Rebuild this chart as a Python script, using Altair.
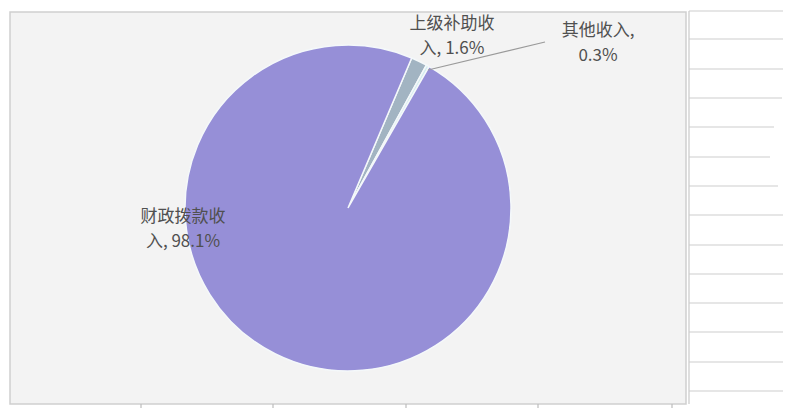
import math
import altair as alt
import pandas as pd

# ---- data ----
names = ["上级补助收入", "其他收入", "财政拨款收入"]
shares = [1.6, 0.3, 98.1]
orders = [1, 2, 3]
colors = ["#a2b4c2", "#d3ecef", "#968fd7"]
label_lines = [["上级补助收", "入, 1.6%"], ["其他收入,", "0.3%"], ["财政拨款收", "入, 98.1%"]]

# decorative lines of the stray table at the right (image y)
side_lines = [11, 39, 69, 98, 127, 157, 186, 215, 245, 274, 303, 332, 362, 391]
side_ends = [791, 791, 791, 782, 774, 770, 778, 786, 788, 791, 791, 791, 791, 791]
bottom_ticks = [141, 273, 406, 538, 672]

OX, OY = 8, 8  # page margin
FONT = "Noto Sans CJK SC"

df = pd.DataFrame({"name": names, "share": shares, "order": orders})
one = pd.DataFrame({"a": [0]})

a0 = math.radians(23.0)

layers = []

# background box
layers.append(
    alt.Chart(one).mark_rect(fill="#f3f3f3", stroke="#cfcfcf", strokeWidth=1.5).encode(
        x=alt.value(10 - OX), x2=alt.value(686 - OX), y=alt.value(12 - OY), y2=alt.value(404 - OY)
    )
)

# right stray lines
layers.append(
    alt.Chart(one).mark_rule(color="#c9c9c9", strokeWidth=1.2).encode(
        x=alt.value(689 - OX), y=alt.value(11 - OY), y2=alt.value(404 - OY)
    )
)
for yv, xe in zip(side_lines, side_ends):
    layers.append(
        alt.Chart(one).mark_rule(color="#cdcdcd", strokeWidth=1.2).encode(
            x=alt.value(689 - OX), x2=alt.value(xe - OX), y=alt.value(yv - OY)
        )
    )
for xv in bottom_ticks:
    layers.append(
        alt.Chart(one).mark_rule(color="#bdbdbd", strokeWidth=1.2).encode(
            x=alt.value(xv - OX), y=alt.value(404 - OY), y2=alt.value(416 - OY)
        )
    )

# pie
pie = alt.Chart(df).mark_arc(radius=163, stroke="#f4f8fa", strokeWidth=1.5).encode(
    theta=alt.Theta("share:Q", stack=True, scale=alt.Scale(range=[a0, a0 + 2 * math.pi])),
    order=alt.Order("order:Q"),
    color=alt.Color("name:N", scale=alt.Scale(domain=names, range=colors), legend=None),
    x=alt.value(348 - OX),
    y=alt.value(208 - OY),
)
layers.append(pie)

# leader line for 其他收入
layers.append(
    alt.Chart(one).mark_rule(color="#9a9a9a", strokeWidth=1.2).encode(
        x=alt.value(428 - OX), y=alt.value(70 - OY), x2=alt.value(545 - OX), y2=alt.value(42 - OY)
    )
)

# labels (one text mark per line)
label_pos = [(452, 24), (598, 31), (183, 217)]
for lines, (lx, ly) in zip(label_lines, label_pos):
    for i, line in enumerate(lines):
        layers.append(
            alt.Chart(one).mark_text(
                text=line, font=FONT, fontSize=17, color="#505050",
                align="center", baseline="middle",
            ).encode(x=alt.value(lx - OX), y=alt.value(ly - OY + 25 * i))
        )

chart = alt.layer(*layers).properties(
    width=775, height=400, autosize=alt.AutoSizeParams(type="none"), padding=0,
    background="white",
).configure_view(stroke=None)

chart.save("out.html", embed_options={"renderer": "svg", "actions": False})
